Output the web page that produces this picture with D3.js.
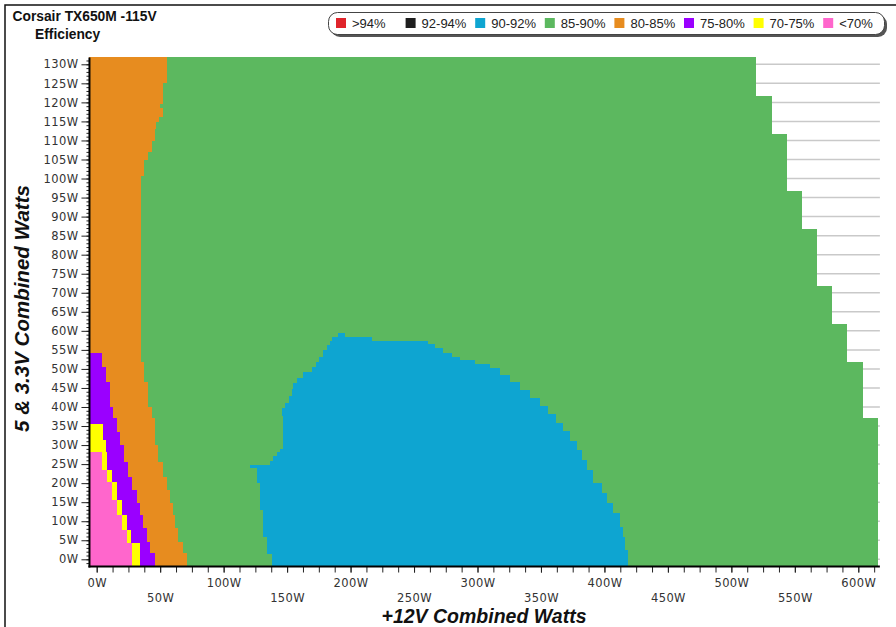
<!DOCTYPE html>
<html>
<head>
<meta charset="utf-8">
<script src="https://cdn.jsdelivr.net/npm/d3@7"></script>
<style>
  body { margin: 0; background: #fff; }
  svg { display: block; }
</style>
</head>
<body>
<svg id="chart" width="896" height="627"></svg>
<script>
// ---- legend bands ----
const bandNames  = [">94%", "92-94%", "90-92%", "85-90%", "80-85%", "75-80%", "70-75%", "<70%"];
const bandColors = ["#e0242b", "#1e1e1e", "#0ea5d1", "#5cb85f", "#e78c1f", "#9a00ff", "#ffff00", "#ff66cc"];

// ---- axis ticks ----
const xLabelValues = [0, 50, 100, 150, 200, 250, 300, 350, 400, 450, 500, 550, 600];
const yLabelValues = [0, 5, 10, 15, 20, 25, 30, 35, 40, 45, 50, 55, 60, 65, 70, 75, 80, 85, 90, 95, 100, 105, 110, 115, 120, 125, 130];

// ---- load ranges (watts) ----
const x12Range = [-5.7, 617];     // +12V combined
const y5Range  = [-1.63, 131.8];  // 5V & 3.3V combined

// Each outline is a list of steps: [5V&3.3V load where the step starts, +12V load where the band ends]
// 85-90% zone reaches the maximum load the unit was driven to
const greenEnd = [
  [-1.63, 615.8], [37.0, 604.0], [51.9, 591.3], [61.7, 579.5], [71.8, 567.7],
  [86.7, 555.4], [96.7, 544.1], [111.6, 531.8], [121.7, 519.4]
];
const greenTop = 131.8;

// 80-85%
const orangeEnd = [
  [-1.63, 70.9], [1.6, 68.2], [4.6, 64.3], [8.1, 61.7], [11.6, 60.3], [14.7, 57.7],
  [18.2, 55.1], [21.7, 52.5], [25.6, 48.5], [30.0, 45.9], [37.0, 43.3], [40.1, 40.7],
  [46.6, 37.3], [51.9, 34.7], [100.9, 37.3], [104.9, 40.7], [107.0, 43.3], [110.1, 45.9],
  [113.2, 46.7], [114.9, 49.3], [116.2, 52.0], [118.4, 49.9], [119.7, 52.5], [125.2, 55.1]
];
const orangeTop = 131.8;

// 75-80%
const purpleEnd = [
  [-1.63, 45.9], [1.6, 42.0], [4.6, 39.4], [8.1, 36.7], [11.6, 34.1], [14.7, 31.5],
  [18.2, 27.6], [21.7, 24.4], [25.6, 21.5], [30.0, 18.4], [33.5, 15.8], [37.0, 12.8],
  [40.1, 10.5], [46.6, 7.3], [50.6, 4.0]
];
const purpleTop = 54.1;

// 70-75%
const yellowEnd = [
  [-1.63, 34.0], [4.2, 27.0], [7.69, 23.5], [11.63, 19.7], [15.57, 15.8],
  [20.38, 11.8], [23.45, 8.0], [28.26, 7.3], [31.3, 4.7]
];
const yellowTop = 35.5;

// <70%
const pinkEnd = [
  [-1.63, 27.6], [4.2, 23.6], [7.69, 19.7], [11.63, 15.8], [15.57, 12.1],
  [20.38, 7.9], [23.45, 3.9]
];
const pinkTop = 28.26;

// 90-92% island: left and right outlines
const blueStart = [
  [-1.63, 137.9], [1.65, 133.9], [5.86, 131.3], [12.95, 128.7], [20.04, 126.5],
  [23.98, 120.8], [24.76, 136.5], [25.81, 139.1], [27.13, 141.8], [28.18, 144.4],
  [28.97, 147.0], [37.89, 145.7], [39.73, 148.3], [41.05, 151.7], [42.88, 153.6],
  [44.72, 154.9], [46.30, 157.6], [47.61, 162.5], [49.19, 169.4], [50.50, 172.8],
  [51.81, 175.4], [53.13, 178.5], [54.96, 181.2], [56.28, 183.8], [57.33, 185.1],
  [58.38, 190.1]
];
const blueEnd = [
  [-1.63, 418.8], [2.44, 416.2], [5.86, 414.9], [8.48, 412.3], [12.16, 407.0],
  [14.78, 401.8], [17.41, 397.9], [20.04, 391.2], [23.46, 386.0], [26.08, 382.1],
  [28.70, 378.2], [31.07, 372.9], [33.69, 367.4], [35.79, 361.8], [38.16, 355.5],
  [40.26, 349.2], [42.36, 341.4], [44.46, 333.5], [46.56, 325.6], [48.40, 317.7],
  [50.24, 309.9], [51.29, 298.0], [52.34, 286.2], [53.13, 279.9], [54.18, 272.8],
  [55.49, 266.5], [56.54, 261.2], [57.33, 216.7], [58.38, 195.6]
];
const blueTop = 59.43;

// ---- layout ----
const svg = d3.select("#chart");
const x = d3.scaleLinear().domain([0, 600]).range([96.7, 858.3]);
const y = d3.scaleLinear().domain([0, 130]).range([559.3, 64.3]);

const tickFont = "'DejaVu Sans', Verdana, sans-serif";
const textFont = "'Liberation Sans', Arial, sans-serif";

// outer frame
svg.append("rect")
  .attr("x", 5).attr("y", 5).attr("width", 1000).attr("height", 1000)
  .attr("fill", "none").attr("stroke", "#111").attr("stroke-width", 1.5);

// title
svg.append("text").attr("x", 12.5).attr("y", 21)
  .attr("font-family", textFont).attr("font-weight", "bold").attr("font-size", 13.8)
  .attr("fill", "#111").text("Corsair TX650M -115V");
svg.append("text").attr("x", 35).attr("y", 38.5)
  .attr("font-family", textFont).attr("font-weight", "bold").attr("font-size", 13.8)
  .attr("fill", "#111").text("Efficiency");

// horizontal grid lines
svg.append("g").selectAll("line")
  .data(yLabelValues)
  .join("line")
  .attr("x1", x(x12Range[0])).attr("x2", x(x12Range[1]))
  .attr("y1", d => y(d)).attr("y2", d => y(d))
  .attr("stroke", "#c9c9c9").attr("stroke-width", 1.5);

// ---- efficiency zones ----
function stepAt(steps, v) {
  let val = steps[0][1];
  for (const s of steps) { if (s[0] <= v) val = s[1]; else break; }
  return val;
}
function zone(endSteps, top, color, startSteps) {
  const breaks = new Set(endSteps.map(s => s[0]));
  if (startSteps) startSteps.forEach(s => breaks.add(s[0]));
  breaks.add(top);
  const b = Array.from(breaks).filter(v => v <= top).sort((p, q) => p - q);
  const rows = [];
  for (let i = 0; i < b.length - 1; i++) {
    const mid = (b[i] + b[i + 1]) / 2;
    rows.push({
      y0: b[i], y1: b[i + 1],
      x0: startSteps ? stepAt(startSteps, mid) : x12Range[0],
      x1: stepAt(endSteps, mid)
    });
  }
  svg.append("g").attr("shape-rendering", "crispEdges").selectAll("rect")
    .data(rows)
    .join("rect")
    .attr("x", d => x(d.x0))
    .attr("width", d => Math.max(0, x(d.x1) - x(d.x0)))
    .attr("y", d => y(d.y1))
    .attr("height", d => y(d.y0) - y(d.y1) + 0.5)
    .attr("fill", color);
}
zone(greenEnd, greenTop, bandColors[3]);
zone(orangeEnd, orangeTop, bandColors[4]);
zone(purpleEnd, purpleTop, bandColors[5]);
zone(yellowEnd, yellowTop, bandColors[6]);
zone(pinkEnd, pinkTop, bandColors[7]);
zone(blueEnd, blueTop, bandColors[2], blueStart);

// ---- axes ----
const axisY = y(y5Range[0]) + 1;
const axisX = x(x12Range[0]);

// y axis: minor ticks every watt, labelled ticks every 5 W
const yMinor = svg.append("g").attr("transform", `translate(${axisX},0)`)
  .call(d3.axisLeft(y).tickValues(d3.range(-1, 132, 1)).tickSize(3).tickFormat(""));
yMinor.select(".domain").remove();
const yAxis = svg.append("g").attr("transform", `translate(${axisX},0)`)
  .call(d3.axisLeft(y).tickValues(yLabelValues).tickSize(8).tickPadding(3).tickFormat(d => d + "W"));
yAxis.select(".domain").remove();
yAxis.selectAll("text").attr("font-family", tickFont).attr("font-size", 11.5)
  .attr("letter-spacing", 0.4).attr("fill", "#333");

// x axis: ticks every 12.5 W, labels alternate between two rows
const xMinor = svg.append("g").attr("transform", `translate(0,${axisY})`)
  .call(d3.axisBottom(x).tickValues(d3.range(0, 613, 12.5)).tickSize(6).tickFormat(""));
xMinor.select(".domain").remove();
const xAxis = svg.append("g").attr("transform", `translate(0,${axisY})`)
  .call(d3.axisBottom(x).tickValues(xLabelValues).tickSize(6).tickPadding(9).tickFormat(d => d + "W"));
xAxis.select(".domain").remove();
xAxis.selectAll("text")
  .attr("font-family", tickFont).attr("font-size", 11.5).attr("letter-spacing", 0.4).attr("fill", "#333")
  .attr("y", d => d % 100 === 0 ? 12.5 : 27.5);
svg.selectAll(".tick line").attr("stroke", "#222");

// axis lines
svg.append("line").attr("x1", axisX).attr("x2", axisX)
  .attr("y1", y(y5Range[1])).attr("y2", axisY + 1)
  .attr("stroke", "#000").attr("stroke-width", 2);
svg.append("line").attr("x1", axisX - 1).attr("x2", x(x12Range[1]))
  .attr("y1", axisY).attr("y2", axisY)
  .attr("stroke", "#000").attr("stroke-width", 2);

// axis titles
svg.append("text")
  .attr("x", 484).attr("y", 623)
  .attr("text-anchor", "middle")
  .attr("font-family", textFont).attr("font-weight", "bold").attr("font-style", "italic")
  .attr("font-size", 19.5).attr("fill", "#111").text("+12V Combined Watts");
svg.append("text")
  .attr("transform", `translate(29,${(y(y5Range[0]) + y(y5Range[1])) / 2 - 3}) rotate(-90)`)
  .attr("text-anchor", "middle")
  .attr("font-family", textFont).attr("font-weight", "bold").attr("font-style", "italic")
  .attr("font-size", 20.5).attr("fill", "#111").text("5 & 3.3V Combined Watts");

// ---- legend ----
const legend = svg.append("g");
legend.append("rect").attr("x", 331).attr("y", 15).attr("width", 556).attr("height", 22)
  .attr("rx", 9).attr("fill", "#555");
legend.append("rect").attr("x", 328.5).attr("y", 12.5).attr("width", 556).attr("height", 22)
  .attr("rx", 9).attr("fill", "#fff").attr("stroke", "#444").attr("stroke-width", 1);
const item = legend.selectAll("g.item")
  .data(bandNames.map((n, i) => ({ name: n, color: bandColors[i], i })))
  .join("g").attr("class", "item")
  .attr("transform", d => `translate(${336 + d.i * 69.6},18)`);
item.append("rect").attr("width", 10).attr("height", 10).attr("fill", d => d.color);
item.append("text").attr("x", 16).attr("y", 10)
  .attr("font-family", textFont).attr("font-size", 13).attr("fill", "#222")
  .text(d => d.name);
</script>
</body>
</html>
